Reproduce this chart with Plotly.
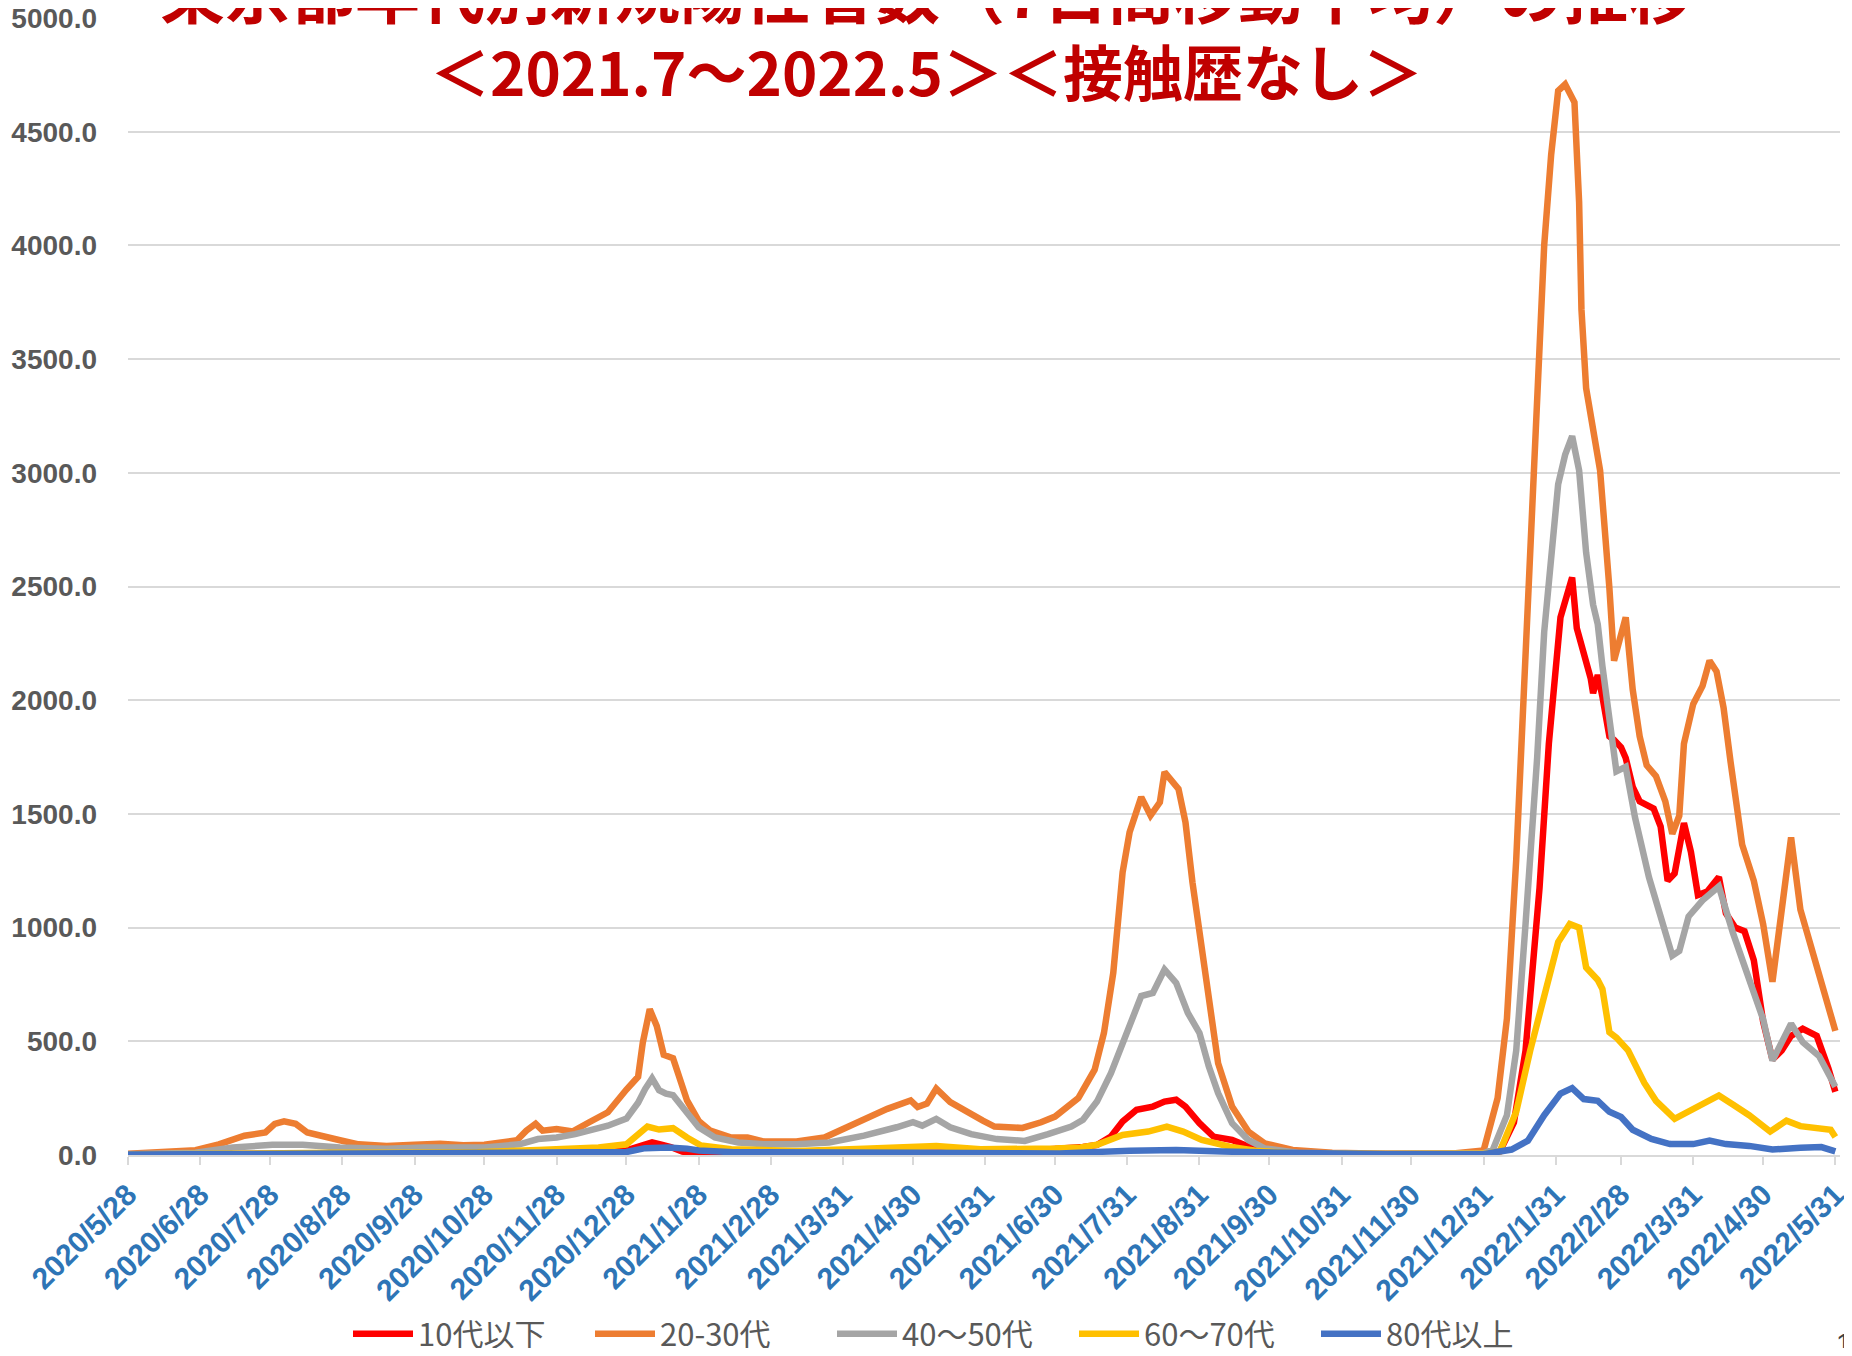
import pandas as pd
import plotly.graph_objects as go

START = pd.Timestamp("2020-05-28")

# days since 2020-05-28 / 7-day moving average
d_u10 = [0, 50, 100, 150, 190, 205, 214, 220, 225, 229, 233, 238, 243, 260, 300, 340, 370, 385, 398, 410,
         416, 422, 427, 433, 440, 445, 450, 454, 460, 466, 474, 481, 488, 500, 530, 582, 589, 595, 600, 606,
         610, 615, 620, 622, 625, 628, 629, 631, 633, 636, 638, 641, 643, 646, 649, 655, 658, 661, 664, 668,
         671, 674, 678, 683, 686, 690, 694, 698, 702, 706, 710, 714, 719, 725, 730, 733]
v_u10 = [2, 3, 3, 4, 8, 12, 20, 40, 55, 45, 35, 15, 6, 3, 4, 6, 12, 18, 25, 35,
         44, 81, 147, 199, 213, 235, 243, 213, 140, 81, 66, 37, 19, 8, 4, 5, 16, 143, 460, 1174,
         1809, 2365, 2540, 2317, 2206, 2095, 2031, 2111, 2016, 1841, 1825, 1793, 1746, 1619, 1555, 1524, 1444, 1206, 1238, 1460,
         1333, 1143, 1159, 1222, 1063, 1000, 984, 857, 587, 420, 460, 524, 555, 524, 381, 278]

d_20s = [0, 14, 29, 39, 50, 59, 63, 67, 72, 77, 81, 91, 99, 111, 123, 134, 144, 153, 167, 171,
         175, 178, 184, 191, 198, 206, 214, 219, 221, 224, 227, 230, 234, 237, 240, 245, 250, 259, 266, 273,
         287, 299, 309, 316, 326, 336, 339, 343, 347, 353, 359, 367, 372, 380, 384, 392, 398, 408, 415, 419,
         423, 427, 430, 435, 439, 443, 445, 451, 454, 457, 460, 464, 468, 474, 481, 488, 500, 517, 540, 570,
         582, 588, 592, 596, 599, 602, 605, 608, 611, 614, 617, 621, 623, 624, 626, 630, 632, 636, 638, 643,
         646, 649, 652, 656, 660, 663, 666, 668, 672, 676, 679, 682, 685, 688, 693, 698, 702, 706, 710, 714,
         718, 722, 725, 730, 733]
v_20s = [5, 10, 21, 47, 85, 99, 137, 148, 137, 99, 88, 65, 47, 40, 45, 50, 43, 45, 65, 107,
         137, 107, 114, 104, 144, 188, 288, 344, 493, 641, 567, 441, 426, 329, 240, 150, 107, 77, 77, 59,
         59, 77, 122, 159, 203, 240, 211, 226, 292, 233, 196, 151, 125, 125, 119, 144, 169, 250, 375, 537,
         801, 1243, 1419, 1574, 1493, 1551, 1684, 1610, 1463, 1199, 978, 684, 404, 213, 103, 51, 22, 10, 6, 8,
         20, 250, 600, 1300, 2000, 2600, 3250, 4000, 4400, 4680, 4709, 4630, 4190, 3719, 3373, 3137, 3011, 2493, 2174, 2365,
         2047, 1841, 1714, 1666, 1555, 1412, 1492, 1809, 1984, 2063, 2174, 2127, 1968, 1730, 1365, 1206, 1016, 762, 1095, 1397,
         1079, 936, 825, 651, 546]

d_40s = [0, 29, 45, 62, 75, 91, 111, 127, 153, 168, 176, 184, 192, 206, 214, 219, 222, 225, 228, 231,
         234, 237, 240, 245, 252, 262, 273, 287, 301, 316, 330, 337, 341, 347, 353, 362, 373, 385, 395, 405,
         410, 416, 422, 427, 431, 435, 440, 445, 450, 455, 460, 464, 468, 474, 481, 488, 502, 530, 582, 586,
         592, 596, 600, 605, 608, 611, 614, 617, 620, 623, 626, 629, 631, 633, 636, 639, 643, 647, 653, 659,
         663, 666, 670, 676, 683, 689, 696, 702, 706, 710, 714, 719, 726, 733]
v_40s = [3, 10, 33, 45, 45, 33, 28, 33, 33, 47, 70, 77, 92, 129, 160, 230, 290, 337, 285, 270,
         263, 225, 196, 122, 77, 55, 47, 47, 55, 85, 122, 144, 129, 159, 122, 92, 70, 62, 92, 125,
         155, 235, 360, 493, 610, 699, 713, 816, 757, 625, 537, 390, 272, 140, 66, 29, 10, 5, 8, 24,
         175, 460, 1016, 1750, 2300, 2650, 2950, 3080, 3161, 3011, 2650, 2420, 2334, 2150, 1889, 1687, 1707, 1484, 1221, 1018,
         877, 897, 1049, 1120, 1181, 978, 775, 597, 415, 496, 577, 496, 435, 300]

d_60s = [0, 30, 60, 90, 120, 150, 176, 202, 214, 219, 223, 228, 234, 240, 246, 259, 287, 316, 337, 347,
         366, 387, 398, 409, 416, 427, 438, 446, 453, 461, 473, 484, 500, 540, 582, 589, 596, 602, 608, 614,
         619, 623, 626, 631, 633, 636, 639, 644, 651, 656, 664, 671, 678, 683, 689, 696, 705, 712, 718, 725,
         731, 733]
v_60s = [2, 5, 12, 10, 10, 12, 22, 33, 47, 90, 125, 112, 118, 77, 42, 25, 18, 28, 36, 40,
         25, 25, 29, 33, 45, 88, 103, 125, 103, 66, 37, 19, 8, 4, 5, 16, 190, 460, 698, 936,
         1016, 1000, 825, 770, 730, 540, 516, 460, 317, 238, 159, 198, 230, 262, 222, 175, 103, 151, 127, 119,
         111, 79]

d_80s = [0, 60, 100, 150, 200, 214, 222, 232, 240, 245, 260, 300, 340, 380, 400, 430, 450, 470, 500, 540,
         582, 594, 601, 608, 615, 620, 625, 631, 636, 641, 646, 654, 662, 672, 679, 686, 696, 706, 718, 727,
         733]
v_80s = [2, 5, 5, 5, 10, 13, 30, 33, 28, 20, 12, 8, 10, 8, 7, 19, 22, 15, 8, 3,
         3, 24, 63, 175, 270, 294, 246, 238, 190, 167, 111, 71, 48, 48, 63, 48, 40, 24, 32, 35,
         16]

names = ["10代以下", "20-30代", "40～50代", "60～70代", "80代以上"]
colors = ["#FF0000", "#ED7D31", "#A5A5A5", "#FFC000", "#4472C4"]

tick_dates = ["2020-05-28", "2020-06-28", "2020-07-28", "2020-08-28", "2020-09-28", "2020-10-28",
              "2020-11-28", "2020-12-28", "2021-01-28", "2021-02-28", "2021-03-31", "2021-04-30",
              "2021-05-31", "2021-06-30", "2021-07-31", "2021-08-31", "2021-09-30", "2021-10-31",
              "2021-11-30", "2021-12-31", "2022-01-31", "2022-02-28", "2022-03-31", "2022-04-30",
              "2022-05-31"]
tick_text = [f"{t.year}/{t.month}/{t.day}" for t in pd.to_datetime(tick_dates)]

title1 = "東京都年代別新規陽性者数（7日間移動平均）の推移"
title2 = "＜2021.7～2022.5＞＜接触歴なし＞"

# page has an 8px body margin, so the figure is drawn 8px smaller and everything shifted
OFF = 8
W, H = 1852 - 2 * OFF, 1356 - 2 * OFF
L, T = 128 - OFF, 18 - OFF
R = W - (1840 - OFF)
B = H - (1155 - OFF)


def fy(y):
    # page pixel row -> paper y
    return (H - B - (y - OFF)) / (H - B - T)


def fx(x):
    return ((x - OFF) - L) / (W - L - R)


fig = go.Figure()
series = [(d_u10, v_u10), (d_20s, v_20s), (d_40s, v_40s), (d_60s, v_60s), (d_80s, v_80s)]
for (d, v), name, c in zip(series, names, colors):
    fig.add_trace(go.Scatter(
        x=START + pd.to_timedelta(d, unit="D"), y=v, name=name, mode="lines",
        line=dict(color=c, width=6.5), hoverinfo="skip"))

fig.update_layout(
    width=W, height=H,
    margin=dict(l=L, r=R, t=T, b=B, autoexpand=False),
    paper_bgcolor="white", plot_bgcolor="white",
    showlegend=True,
    legend=dict(orientation="h", x=fx(348), y=fy(1334), xanchor="left", yanchor="middle",
                font=dict(family="Noto Sans CJK JP", size=31, color="#595959"),
                entrywidth=167, itemwidth=60, bgcolor="rgba(0,0,0,0)"),
    xaxis=dict(type="date", range=[START, pd.Timestamp("2022-06-02")], automargin=False,
               tickvals=tick_dates, ticktext=tick_text, tickangle=-45, ticklabeloverflow="allow",
               tickfont=dict(family="Liberation Sans", size=30, color="#2E75B6", weight="bold"),
               showgrid=False, showline=True, linecolor="#D9D9D9", linewidth=2,
               ticks="outside", ticklen=8, tickcolor="#D9D9D9", tickwidth=2, zeroline=False),
    yaxis=dict(range=[0, 5000.5], dtick=500, tickformat=".1f", automargin=False,
               ticklabeloverflow="allow",
               tickfont=dict(family="Liberation Sans", size=28, color="#595959", weight="bold"),
               showgrid=True, gridcolor="#D9D9D9", gridwidth=2, zeroline=False,
               ticklabelstandoff=30, showline=False),
    annotations=[
        dict(text=title1, x=fx(926), y=fy(39), xref="paper", yref="paper", xanchor="center", yanchor="bottom",
             showarrow=False, font=dict(family="Noto Sans CJK JP", size=65, color="#C00000", weight="bold")),
        dict(text=title2, x=fx(926), y=fy(70), xref="paper", yref="paper", xanchor="center", yanchor="middle",
             showarrow=False, font=dict(family="Noto Sans CJK JP", size=60, color="#C00000", weight="bold")),
        dict(text="12", x=fx(1834), y=fy(1343), xref="paper", yref="paper", xanchor="left", yanchor="middle",
             showarrow=False, font=dict(family="Liberation Sans", size=28, color="#404040")),
    ],
)

fig.write_html("out.html")
